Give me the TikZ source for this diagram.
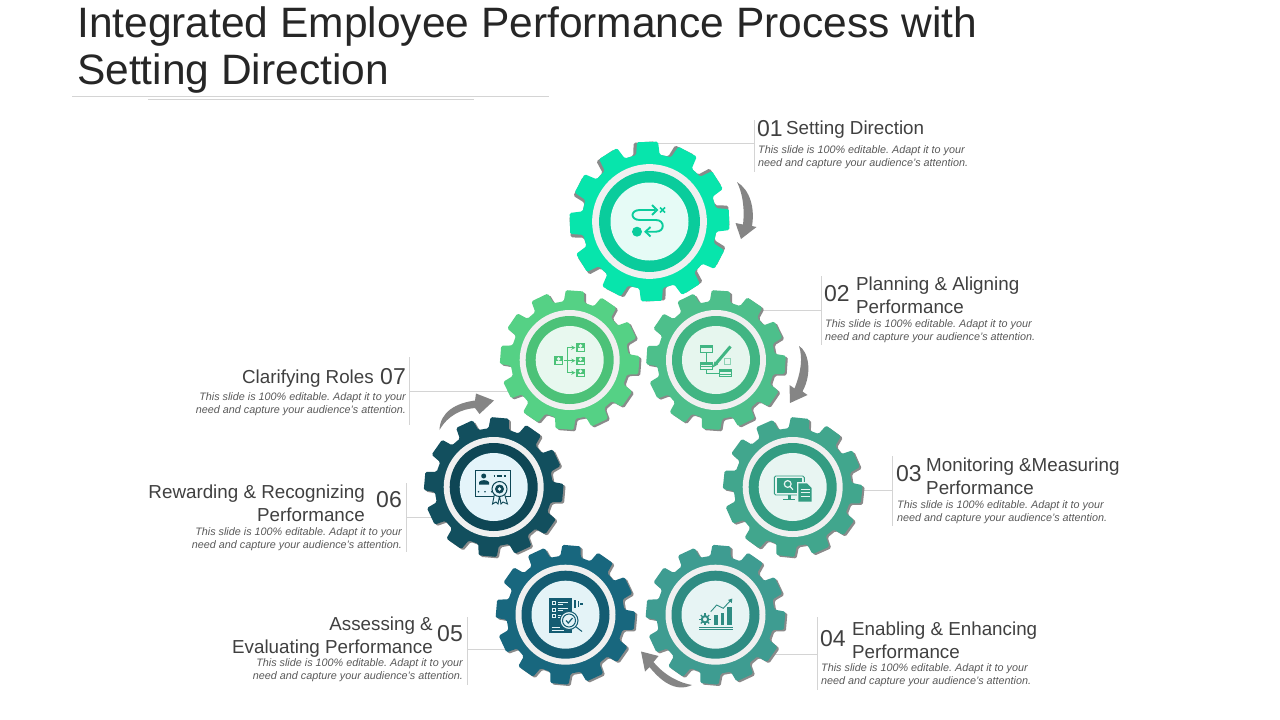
\documentclass[tikz,border=0pt]{standalone}
\usepackage{fontspec}
\setmainfont{Liberation Sans}
\frenchspacing
\definecolor{titlecol}{HTML}{262626}
\definecolor{headcol}{HTML}{404040}
\definecolor{bodycol}{HTML}{595959}
\definecolor{rulecol}{HTML}{D4D4D4}
\definecolor{arrowcol}{HTML}{858585}
\definecolor{shadowcol}{HTML}{8A8A8A}
\definecolor{gearA}{HTML}{07E5AC}\definecolor{ringA}{HTML}{0ACC9C}\definecolor{coreA}{HTML}{E6FBF6}
\definecolor{gearB}{HTML}{4DBF8B}\definecolor{ringB}{HTML}{41B583}\definecolor{coreB}{HTML}{E6F6EE}
\definecolor{gearC}{HTML}{41A68D}\definecolor{ringC}{HTML}{339C82}\definecolor{coreC}{HTML}{E8F5F2}
\definecolor{gearD}{HTML}{3E9C91}\definecolor{ringD}{HTML}{2F8C83}\definecolor{coreD}{HTML}{E7F4F4}
\definecolor{gearE}{HTML}{18677E}\definecolor{ringE}{HTML}{145C72}\definecolor{coreE}{HTML}{E4F3F7}
\definecolor{gearF}{HTML}{124F5E}\definecolor{ringF}{HTML}{0E4655}\definecolor{coreF}{HTML}{E4F4FA}
\definecolor{gearG}{HTML}{55D185}\definecolor{ringG}{HTML}{4CC278}\definecolor{coreG}{HTML}{E8F8EF}
\tikzset{
  titletext/.style={inner sep=0,anchor=north west,align=left,text=titlecol,font=\fontsize{42.5}{47}\selectfont},
  numtext/.style={inner sep=0,text=headcol,font=\fontsize{23}{26}\selectfont},
  headtext/.style={inner sep=0,text=headcol,font=\fontsize{18.8}{23}\selectfont},
  bodytext/.style={inner sep=0,text=bodycol,font=\fontsize{10.8}{13}\selectfont\itshape},
  leader/.style={draw=rulecol,line width=0.8pt},
  turnarrow/.style={fill=arrowcol},
}
% #1 centre, #2 scale, #3 rotation, #4 gear, #5 ring, #6 core, #7 shadow options
\newcommand{\gearwheel}[7]{
  \begin{scope}[shift={(#1)},scale=#2]
  \fill[shadowcol,rounded corners=1.5pt,#7] ({#3-10}:59) \foreach \i in {0,...,11}{
    -- ({#3+\i*30-10}:59) -- ({#3+\i*30-7.5}:70) -- ({#3+\i*30+7.5}:70) -- ({#3+\i*30+10}:59)} -- cycle;
  \fill[#4,rounded corners=1.5pt] ({#3-10}:59) \foreach \i in {0,...,11}{
    -- ({#3+\i*30-10}:59) -- ({#3+\i*30-7.5}:70) -- ({#3+\i*30+7.5}:70) -- ({#3+\i*30+10}:59)} -- cycle;
  \fill[white!35!gray!18] (0,0) circle (50);
  \fill[#5] (0,0) circle (44);
  \fill[#6] (0,0) circle (34);
  \end{scope}
}
\newcommand{\personbox}[3]{
  \fill[#3] (#1-4.5,#2-4.2) rectangle (#1+4.5,#2+4.2);
  \fill[coreG] (#1,#2-1.6) circle (1.9);
  \fill[coreG] (#1-3,#2+3.4) rectangle (#1+3,#2+0.8);
}
\begin{document}
\begin{tikzpicture}[x=1pt,y=-1pt]
\useasboundingbox (0,0) rectangle (1280,720);
\fill[white] (0,0) rectangle (1280,720);
% title
\node[titletext] (title) at (77,6.3) {Integrated Employee Performance Process with\\Setting Direction};
\coordinate (ruleA) at (72,96.5);
\coordinate (ruleB) at (148,99);
\draw[leader] (ruleA) -- ++(477,0);
\draw[leader] (ruleB) -- ++(326,0);
% gear centres
\coordinate (g1) at (649.5,221.5);
\coordinate (g2) at (716,360);
\coordinate (g3) at (792.7,487);
\coordinate (g4) at (715.5,614.7);
\coordinate (g5) at (565.5,614.7);
\coordinate (g6) at (493.7,487);
\coordinate (g7) at (569.7,360);
% leaders
\coordinate (lead1) at (754.5,143);
\coordinate (lead2) at (821,310);
\coordinate (lead3) at (892.5,490);
\coordinate (lead4) at (817,654);
\coordinate (lead5) at (467.5,649);
\coordinate (lead6) at (406.5,517);
\coordinate (lead7) at (409.5,391);
\draw[leader] (lead1) -- (lead1 -| g1) ([yshift=23]lead1) -- ([yshift=-29]lead1);
\draw[leader] (lead2) -- (lead2 -| g2) ([yshift=34]lead2) -- ([yshift=-35]lead2);
\draw[leader] (lead3) -- (lead3 -| g3) ([yshift=34]lead3) -- ([yshift=-36]lead3);
\draw[leader] (lead4) -- (lead4 -| g4) ([yshift=37]lead4) -- ([yshift=-36]lead4);
\draw[leader] (lead5) -- (lead5 -| g5) ([yshift=32]lead5) -- ([yshift=-36]lead5);
\draw[leader] (lead6) -- (lead6 -| g6) ([yshift=34]lead6) -- ([yshift=-35]lead6);
\draw[leader] (lead7) -- (lead7 -| g7) ([yshift=34]lead7) -- ([yshift=-34]lead7);
% gears
\gearwheel{g1}{1.147}{-1.4}{gearA}{ringA}{coreA}{rotate=2.5}
\gearwheel{g2}{1}{4}{gearB}{ringB}{coreB}{xshift=2,yshift=-1.5}
\gearwheel{g7}{1}{4.3}{gearG}{ringG}{coreG}{xshift=2,yshift=-1.5}
\gearwheel{g3}{1}{6}{gearC}{ringC}{coreC}{xshift=2,yshift=-1.5}
\gearwheel{g6}{1}{5}{gearF}{ringF}{coreF}{xshift=2,yshift=-1.5}
\gearwheel{g4}{1}{5}{gearD}{ringD}{coreD}{xshift=2,yshift=-1.5}
\gearwheel{g5}{1}{5}{gearE}{ringE}{coreE}{xshift=2,yshift=-1.5}
% turning arrows
\fill[turnarrow] (737,182) .. controls (750,190) and (755,208) .. (752,226) -- (756.5,227) -- (741,239) -- (735.5,223) -- (743,224.5) .. controls (745,207) and (742,192) .. (737,182) -- cycle;
\fill[turnarrow] (799,346) .. controls (808,351) and (813,372) .. (802.5,391.5) -- (807.5,395) -- (790,403) -- (789.5,385) -- (794.5,388.5) .. controls (801,372) and (803,358) .. (799,346) -- cycle;
\fill[turnarrow] (692,685) .. controls (680,683) and (665,676) .. (653.5,662) -- (658.5,656) -- (641,651.5) -- (645,671.5) -- (649.5,667) .. controls (660,680) and (675,693) .. (692,685) -- cycle;
\fill[turnarrow] (439.5,430) .. controls (440,412) and (456,403) .. (475,400.5) -- (476,393.5) -- (494,400.5) -- (479.5,414) -- (475,408) .. controls (462,409) and (448,415) .. (439.5,430) -- cycle;
% icon 1
\begin{scope}[ringA,line width=1.9pt]
\draw (655,210) -- (640,210) .. controls (630,210) and (630,220) .. (640,220) -- (656,220) .. controls (665,220) and (665,231.7) .. (656,231.7) -- (646,231.7);
\draw (652,205) -- (657,210) -- (652,215);
\draw (650.5,227) -- (645.5,231.7) -- (650.5,236.5);
\fill (637,231.7) circle (5);
\draw[line width=1.6pt] (660,207.5) -- (665,212.5) (660,212.5) -- (665,207.5);
\end{scope}
% icon 2
\begin{scope}[ringB,line width=0.8pt]
\draw[fill=coreB] (700,345.7) rectangle (712.7,352.3);
\fill (700,345.7) rectangle (712.7,348);
\draw[fill=coreB] (700,362.3) rectangle (712.7,369);
\fill (700,362.3) rectangle (712.7,364.6);
\draw (700,366.5) -- (712.7,366.5);
\draw[fill=coreB] (719.3,369.3) rectangle (731.7,376.7);
\fill (719.3,369.3) rectangle (731.7,372);
\draw (719.3,374.5) -- (731.7,374.5);
\draw (706,352.3) -- (706,362.3) (706,369) -- (706,373.5) -- (719.3,373.5);
\draw[ringB!60] (724.3,358.3) rectangle (730.7,364.3);
\draw[line width=3pt] (716,363.5) -- (730.5,346.5);
\fill (712.7,367.5) -- (714.5,361.5) -- (718,364.5) -- cycle;
\end{scope}
% icon 3
\begin{scope}[ringC,line width=0.9pt]
\draw[rounded corners=1.5pt] (774.3,476) rectangle (804.3,495);
\fill (776.5,478.3) rectangle (802,492.5);
\fill (787.5,495) rectangle (790.5,499);
\draw[line width=1.2pt] (783.3,499.5) -- (795,499.5);
\draw[coreC,line width=1.2pt] (787.7,484) circle (3.4) (790,486.5) -- (793,489.7);
\fill[coreC] (797,482) rectangle (813,503);
\fill (798.3,483.3) -- (807,483.3) -- (811.7,488) -- (811.7,501.7) -- (798.3,501.7) -- cycle;
\draw[coreC] (800.5,489) -- (809.5,489) (800.5,492.5) -- (809.5,492.5) (800.5,496) -- (809.5,496);
\end{scope}
% icon 4
\begin{scope}[ringD]
\draw[line width=2pt] (705,619.3) circle (3.2);
\foreach \a in {0,45,...,315}{\draw[line width=1.2pt] (705,619.3) ++(\a:3.5) -- ++(\a:2.4);}
\fill (714,615) rectangle (718.3,625);
\fill (720.7,612.7) rectangle (724.3,625);
\fill (726.7,606.7) rectangle (731.7,625);
\draw[line width=0.9pt] (699.3,627.7) -- (732.7,627.7) (699.3,629.5) -- (732.7,629.5);
\draw[line width=0.9pt] (710.7,611.7) -- (716.7,605) -- (723.3,608.3) -- (731,600);
\fill (732.3,598.5) -- (731.8,603) -- (728,600) -- cycle;
\end{scope}
% icon 5
\begin{scope}[ringE]
\fill (549.3,598.3) rectangle (571.7,633.3);
\foreach \y in {601,607.5,614}{\fill[coreE] (551.5,\y) rectangle (555.5,\y+4);
  \fill[ringE] (552.5,\y+1) rectangle (554.5,\y+3);
  \draw[coreE,line width=0.7pt] (557.5,\y+1) -- (568,\y+1) (557.5,\y+3) -- (563,\y+3);}
\draw[coreE,line width=0.7pt] (551.5,627.5) -- (560,627.5) (551.5,630) -- (564,630);
\fill (573.5,600) rectangle (576,608);
\fill (577.5,601) rectangle (579,606.5);
\fill (580,602.5) rectangle (582.5,605);
\draw[fill=coreE,line width=1pt] (569,620.5) circle (9);
\draw[line width=1pt] (569,620.5) circle (6.5);
\draw[line width=1.2pt] (566,620.5) -- (568.3,623) -- (572.5,618);
\draw[line width=1pt] (575.5,626.5) -- (582,631.5);
\end{scope}
% icon 6
\begin{scope}[ringF]
\draw[line width=0.8pt] (475,470) rectangle (510,496.7);
\fill (483.7,476) circle (2.5);
\fill (479,484.5) -- (479,482) .. controls (481,479.5) and (487,479.5) .. (489,482) -- (489,484.5) -- cycle;
\draw[line width=1.5pt] (493.5,476) -- (495,476) (496.5,476) -- (502,476) (503.5,476) -- (505.5,476);
\fill (478.5,491.7) circle (0.9) (485,491.7) circle (0.9) (491.7,491.7) circle (0.9);
\draw[fill=coreF,line width=0.9pt] (494.5,494) -- (492.5,504) -- (496,502) -- (498,504) -- (499.5,496) -- (501,504) -- (503,502) -- (507.5,504) -- (504.5,494) -- cycle;
\draw[fill=coreF,line width=1pt] (499.5,489) circle (7.5);
\fill (499.5,489) circle (4.5);
\fill[coreF] (499.5,489) circle (1.8);
\end{scope}
% icon 7
\draw[ringG,line width=0.9pt,->,>=stealth] (564,360.7) -- (575.5,360.7);
\draw[ringG,line width=0.9pt,->,>=stealth] (574,347.7) -- (567.3,347.7) -- (567.3,372.7) -- (575.5,372.7);
\draw[ringG,line width=0.9pt,->,>=stealth] (567.3,347.7) -- (575.5,347.7);
\personbox{558.7}{360.5}{ringG}
\personbox{580.5}{347.5}{ringG}
\personbox{580.5}{360.8}{ringG}
\personbox{580.5}{372.8}{ringG}
% label 1
\node[numtext,anchor=base west] (num1) at (757,136) {01};
\node[headtext,anchor=base west] (head1) at (786,134) {Setting Direction};
\node[bodytext,anchor=north west,align=left] (body1) at (758,145.2) {This slide is 100\% editable. Adapt it to your\\need and capture your audience's attention.};
% label 2
\node[numtext,anchor=base west] (num2) at (824,301.5) {02};
\node[headtext,anchor=north west,align=left] (head2) at (856,276.8) {Planning \& Aligning\\Performance};
\node[bodytext,anchor=north west,align=left] (body2) at (825,319.2) {This slide is 100\% editable. Adapt it to your\\need and capture your audience's attention.};
% label 3
\node[numtext,anchor=base west] (num3) at (896,481.5) {03};
\node[headtext,anchor=north west,align=left] (head3) at (926,457.8) {Monitoring \&Measuring\\Performance};
\node[bodytext,anchor=north west,align=left] (body3) at (897,500.2) {This slide is 100\% editable. Adapt it to your\\need and capture your audience's attention.};
% label 4
\node[numtext,anchor=base west] (num4) at (820,646.5) {04};
\node[headtext,anchor=north west,align=left] (head4) at (852,621.8) {Enabling \& Enhancing\\Performance};
\node[bodytext,anchor=north west,align=left] (body4) at (821,663.2) {This slide is 100\% editable. Adapt it to your\\need and capture your audience's attention.};
% label 5
\node[numtext,anchor=base east] (num5) at (463,641.5) {05};
\node[headtext,anchor=north east,align=right] (head5) at (433,616.8) {Assessing \&\\Evaluating Performance};
\node[bodytext,anchor=north east,align=right] (body5) at (463,658.2) {This slide is 100\% editable. Adapt it to your\\need and capture your audience's attention.};
% label 6
\node[numtext,anchor=base east] (num6) at (402,507.5) {06};
\node[headtext,anchor=north east,align=right] (head6) at (365,484.8) {Rewarding \& Recognizing\\Performance};
\node[bodytext,anchor=north east,align=right] (body6) at (402,527.2) {This slide is 100\% editable. Adapt it to your\\need and capture your audience's attention.};
% label 7
\node[numtext,anchor=base east] (num7) at (406,384.5) {07};
\node[headtext,anchor=base east] (head7) at (374,383) {Clarifying Roles};
\node[bodytext,anchor=north east,align=right] (body7) at (406,392.2) {This slide is 100\% editable. Adapt it to your\\need and capture your audience's attention.};
\end{tikzpicture}
\end{document}
